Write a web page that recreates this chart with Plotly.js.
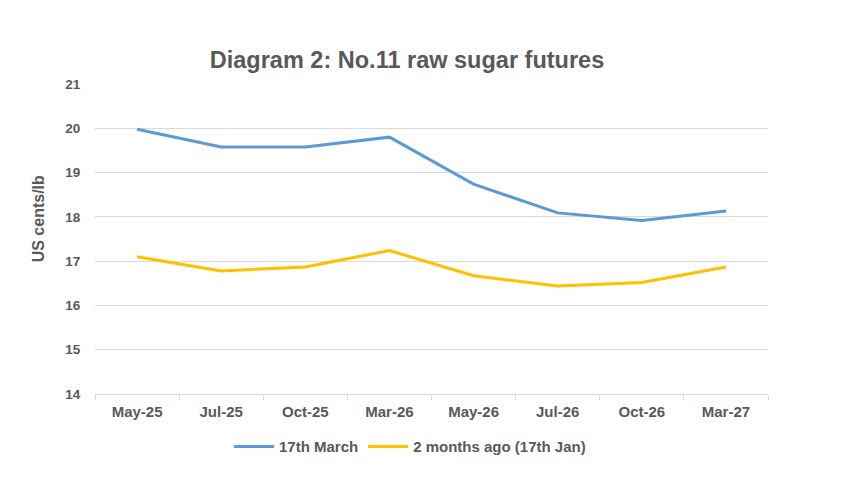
<!DOCTYPE html>
<html>
<head>
<meta charset="utf-8">
<script src="https://cdn.plot.ly/plotly-3.0.1.min.js"></script>
<style>html,body{margin:0;padding:0;background:#fff;}#chart{width:841px;height:482px;}</style>
</head>
<body>
<div id="chart"></div>
<script>
const categories = ["May-25", "Jul-25", "Oct-25", "Mar-26", "May-26", "Jul-26", "Oct-26", "Mar-27"];
const march17 = [19.98, 19.58, 19.58, 19.80, 18.74, 18.09, 17.92, 18.13];
const jan17 = [17.10, 16.78, 16.87, 17.24, 16.67, 16.44, 16.52, 16.87];
const seriesNames = ["17th March", "2 months ago (17th Jan)"];
const yTitle = "US cents/lb";
const chartTitle = "Diagram 2: No.11 raw sugar futures";

const font = "Liberation Sans, Arial, sans-serif";
const grey = "#595959";

const traces = [
  {x: categories, y: march17, name: seriesNames[0], type: "scatter", mode: "lines",
   line: {color: "#5B9BD5", width: 3}},
  {x: categories, y: jan17, name: seriesNames[1], type: "scatter", mode: "lines",
   line: {color: "#FFC000", width: 3}}
];

const layout = {
  width: 841, height: 482,
  margin: {l: 95, r: 73, t: 84, b: 88},
  paper_bgcolor: "#fff", plot_bgcolor: "#fff",
  font: {family: font, color: grey},
  title: {text: "<b>" + chartTitle + "</b>", font: {size: 23.5, color: grey, family: font},
          x: 0.4636, xanchor: "center", xref: "paper", y: 0.877, yanchor: "middle"},
  xaxis: {
    type: "category", range: [-0.5, categories.length - 0.5],
    tickson: "boundaries", ticks: "outside", ticklen: 5, tickcolor: "#d9d9d9",
    ticklabelstandoff: 4,
    showline: true, linecolor: "#d9d9d9", linewidth: 1, showgrid: false,
    tickfont: {size: 15, color: grey, family: font, weight: "bold"}, fixedrange: true
  },
  yaxis: {
    range: [14, 21], dtick: 1, showgrid: true, gridcolor: "#d9d9d9", gridwidth: 1,
    zeroline: false, showline: false, ticks: "outside", ticklen: 11, tickcolor: "rgba(0,0,0,0)",
    tickfont: {size: 13.5, color: grey, family: font, weight: "bold"}
  },
  annotations: [{
    text: "<b>" + yTitle + "</b>", textangle: -90, xref: "paper", yref: "paper",
    x: -0.084, y: 0.565, xanchor: "center", yanchor: "middle", showarrow: false,
    font: {size: 16, color: grey, family: font}
  }],
  showlegend: true,
  legend: {orientation: "h", x: 0.468, xanchor: "center", y: -0.17, yanchor: "middle",
           font: {size: 15, color: grey, family: font, weight: "bold"}, itemwidth: 40, traceorder: "normal"}
};

Plotly.newPlot("chart", traces, layout, {displayModeBar: false, staticPlot: true});
</script>
</body>
</html>
